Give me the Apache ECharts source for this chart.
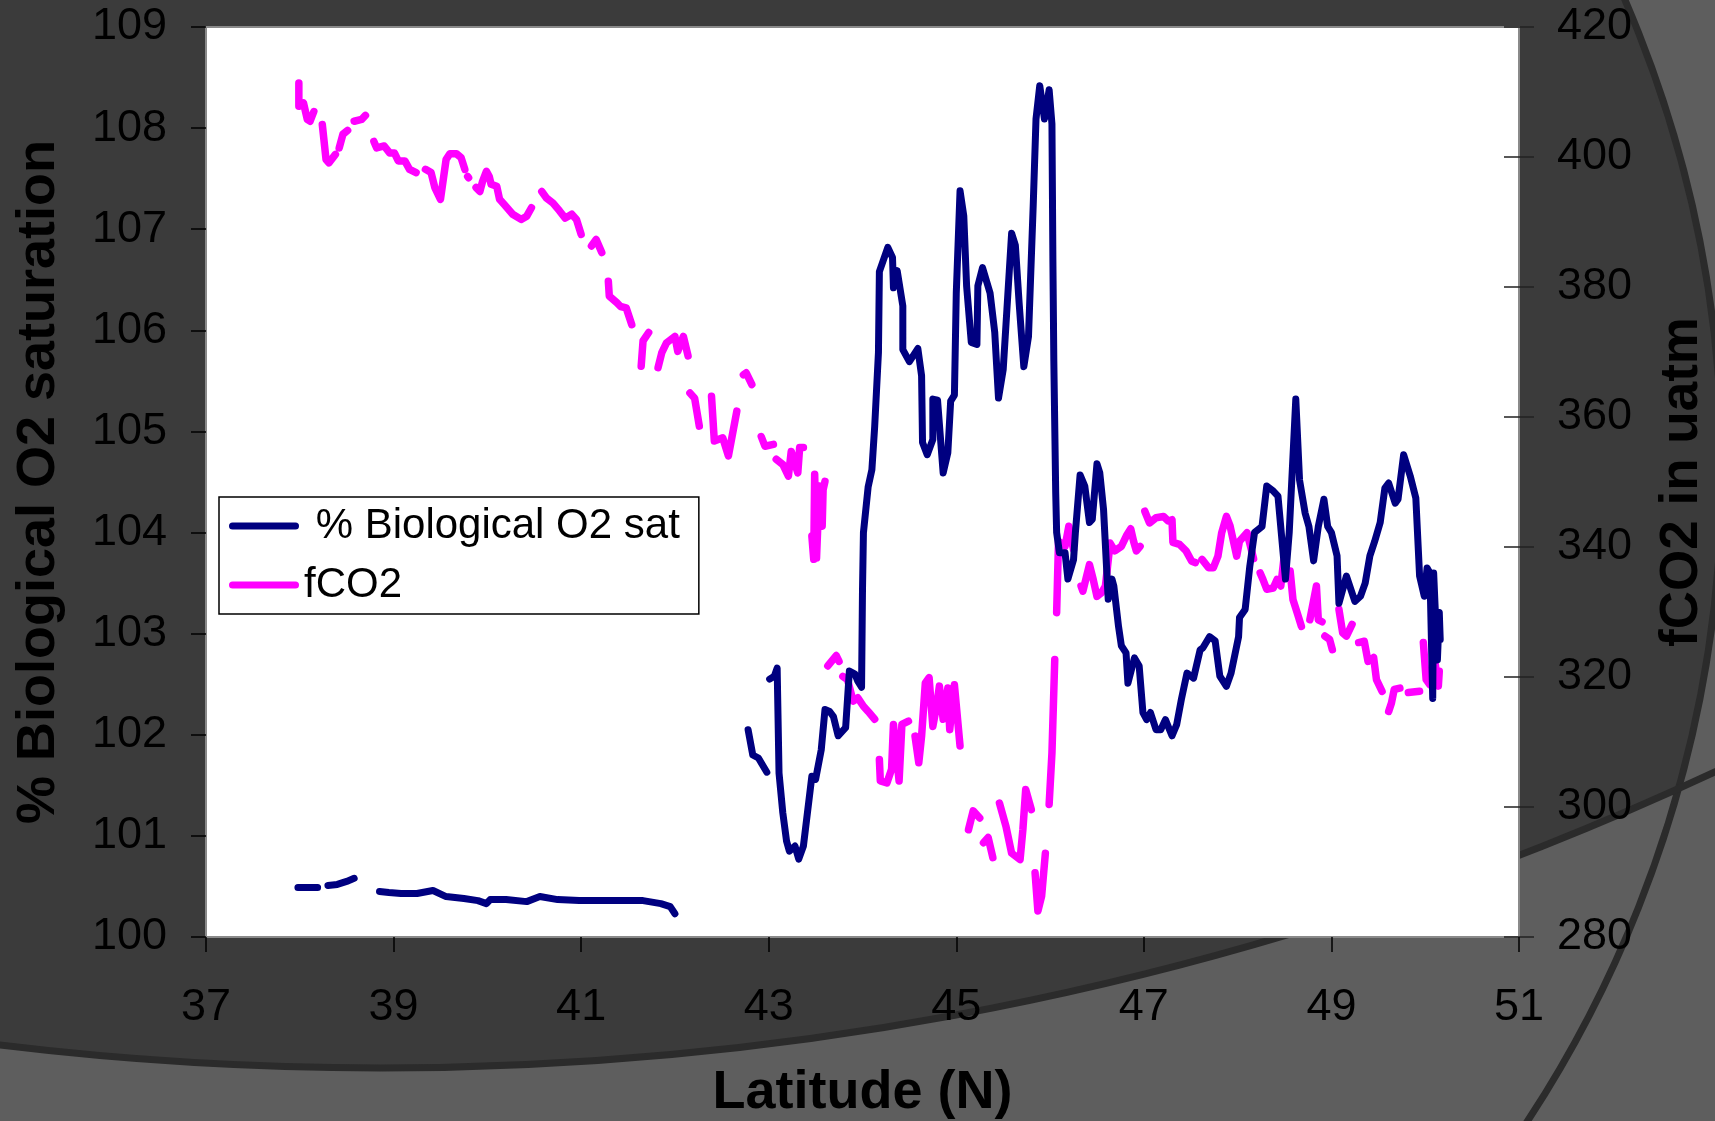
<!DOCTYPE html>
<html>
<head>
<meta charset="utf-8">
<script src="https://cdn.jsdelivr.net/npm/echarts@6/dist/echarts.min.js"></script>
<style>
  html, body { margin: 0; padding: 0; background: #3b3b3b; }
  #chart { width: 1715px; height: 1121px; }
</style>
</head>
<body>
<div id="chart"></div>
<script>
// Latitude ticks
const latTicks = [37, 39, 41, 43, 45, 47, 49, 51];

// % Biological O2 saturation along the transect (null = no data)
const o2Lat = [
  37.98, 38.19, null,
  38.30, 38.40, 38.50, 38.58, null,
  38.85, 38.95, 39.08, 39.25, 39.42, 39.56, 39.75, 39.90, 39.99, 40.03, 40.20, 40.42, 40.56, 40.75, 40.98, 41.20, 41.46, 41.66, 41.85, 41.95, 42.00, null,
  42.78, 42.83, 42.89, 42.98, null,
  43.01, 43.06, 43.09, 43.11, 43.15, 43.19, 43.22, 43.28, 43.32, 43.37, 43.46, 43.50, 43.56, 43.60, 43.65, 43.69, 43.74, 43.82, 43.86, 43.92, 43.95, 43.99,
  44.00, 44.01, 44.06, 44.10, 44.13, 44.17, 44.18, 44.27, 44.32, 44.33, 44.37, 44.43, 44.43, 44.50, 44.59, 44.63, 44.64, 44.69, 44.75, 44.75, 44.80, 44.86, 44.91, 44.94, 44.98,
  45.00, 45.04, 45.08, 45.11, 45.16, 45.22, 45.23, 45.28, 45.36, 45.41, 45.45, 45.50, 45.54, 45.59, 45.63, 45.67, 45.72, 45.77, 45.82, 45.85, 45.89, 45.94, 45.99,
  46.02, 46.03, 46.04, 46.06, 46.07, 46.10, 46.16, 46.19, 46.25, 46.27, 46.32, 46.37, 46.42, 46.45, 46.50, 46.53, 46.57, 46.62, 46.66, 46.68, 46.73, 46.76, 46.81, 46.83, 46.90, 46.95, 46.99,
  47.03, 47.07, 47.13, 47.18, 47.23, 47.30, 47.35, 47.40, 47.46, 47.53, 47.60, 47.63, 47.70, 47.76, 47.81, 47.88, 47.93,
  48.01, 48.02, 48.08, 48.13, 48.18, 48.26, 48.31, 48.38, 48.43, 48.51, 48.55, 48.62, 48.66, 48.72, 48.76, 48.81, 48.86, 48.92, 48.96,
  49.00, 49.06, 49.08, 49.16, 49.25, 49.31, 49.36, 49.41, 49.46, 49.52, 49.57, 49.61, 49.68, 49.71, 49.77, 49.84, 49.90, 49.94, 49.99,
  50.02, 50.05, 50.08, 50.09, 50.11, 50.13, 50.15, 50.16
];
const o2Val = [
  100.49, 100.49, null,
  100.51, 100.52, 100.55, 100.58, null,
  100.45, 100.44, 100.43, 100.43, 100.46, 100.40, 100.38, 100.36, 100.33, 100.37, 100.37, 100.35, 100.40, 100.37, 100.36, 100.36, 100.36, 100.36, 100.33, 100.30, 100.23, null,
  102.05, 101.80, 101.77, 101.63, null,
  102.55, 102.58, 102.66, 101.62, 101.23, 100.95, 100.85, 100.90, 100.77, 100.90, 101.59, 101.56, 101.85, 102.25, 102.23, 102.18, 101.99, 102.07, 102.63, 102.60, 102.53, 102.47,
  103.44, 104.00, 104.45, 104.62, 105.05, 105.78, 106.58, 106.82, 106.72, 106.42, 106.59, 106.24, 105.81, 105.69, 105.82, 105.55, 104.89, 104.77, 104.92, 105.32, 105.31, 104.59, 104.79, 105.30, 105.36,
  106.37, 107.38, 107.13, 106.44, 105.88, 105.86, 106.44, 106.62, 106.37, 105.98, 105.33, 105.61, 106.21, 106.96, 106.84, 106.27, 105.64, 105.94, 107.23, 108.09, 108.42, 108.09, 108.38,
  108.04, 106.70, 105.70, 104.40, 104.00, 103.80, 103.80, 103.54, 103.73, 104.00, 104.57, 104.46, 104.10, 104.13, 104.68, 104.59, 104.23, 103.34, 103.54, 103.47, 103.07, 102.88, 102.81, 102.51, 102.76, 102.68, 102.22,
  102.15, 102.22, 102.05, 102.05, 102.15, 101.99, 102.10, 102.35, 102.61, 102.56, 102.84, 102.86, 102.97, 102.93, 102.58, 102.48, 102.61,
  102.97, 103.16, 103.24, 103.67, 104.00, 104.06, 104.46, 104.41, 104.36, 103.54, 104.00, 105.32, 104.52, 104.19, 104.06, 103.72, 104.06, 104.33, 104.06,
  104.00, 103.77, 103.30, 103.57, 103.32, 103.37, 103.50, 103.77, 103.91, 104.10, 104.44, 104.49, 104.29, 104.33, 104.77, 104.56, 104.34, 103.57, 103.37,
  103.65, 103.60, 102.36, 103.60, 103.60, 102.74, 103.21, 102.94
];

// fCO2 (uatm) along the transect (null = no data)
const co2Lat = [
  37.99, 37.99, 38.04, 38.08, 38.11, 38.15, null,
  38.24, 38.28, 38.31, 38.38, null,
  38.42, 38.46, 38.51, null,
  38.58, 38.66, 38.70, null,
  38.79, 38.82, 38.90, 38.96, 39.01, 39.05, 39.12, 39.17, 39.24, null,
  39.34, 39.40, 39.44, 39.50, 39.56, 39.60, 39.67, 39.72, 39.76, null,
  39.79, 39.80, null,
  39.88, 39.92, 39.95, 39.99, 40.02, 40.04, 40.10, 40.13, 40.18, 40.27, 40.36, 40.42, 40.47, null,
  40.58, 40.63, 40.70, 40.77, 40.83, 40.90, 40.95, 41.00, null,
  41.11, 41.16, 41.22, null,
  41.29, 41.30, 41.38, 41.42, 41.48, 41.54, null,
  41.64, 41.66, 41.72, null,
  41.82, 41.86, 41.91, 42.00, 42.03, 42.09, 42.14, null,
  42.16, 42.21, 42.26, null,
  42.39, 42.42, 42.51, 42.57, 42.66, null,
  42.73, 42.76, 42.82, null,
  42.92, 42.96, 43.05, null,
  43.08, 43.15, 43.21, 43.24, 43.31, 43.33, 43.37, null,
  43.46, 43.48, 43.49, 43.51, 43.54, 43.57, 43.58, 43.60, null,
  43.63, 43.72, 43.75, null,
  43.79, 43.84, 43.90, 43.95, 44.01, 44.06, 44.13, null,
  44.18, 44.19, 44.26, 44.31, 44.33, 44.39, 44.42, 44.49, null,
  44.56, 44.60, 44.63, 44.67, 44.71, 44.75, 44.79, 44.82, 44.86, 44.91, 44.93, 44.98, 45.04, null,
  45.13, 45.18, 45.25, null,
  45.29, 45.34, 45.39, null,
  45.46, 45.53, 45.59, 45.68, 45.71, 45.74, 45.80, null,
  45.84, 45.87, 45.91, 45.95, null,
  45.99, 46.02, 46.05, null,
  46.07, 46.09, 46.16, 46.20, 46.25, null,
  46.33, 46.35, 46.42, 46.46, 46.50, 46.55, 46.59, 46.64, 46.69, 46.76, 46.82, 46.86, 46.89, 46.92, 46.96, null,
  47.01, 47.06, 47.13, 47.21, 47.26, 47.30, 47.31, 47.38, 47.45, 47.51, 47.55, null,
  47.62, 47.69, 47.74, 47.79, 47.83, 47.88, 47.92, 47.99, 48.02, 48.10, 48.17, null,
  48.24, 48.27, 48.31, 48.38, 48.42, 48.46, 48.49, 48.53, null,
  48.56, 48.59, 48.63, 48.68, null,
  48.77, 48.84, 48.86, 48.90, null,
  48.93, 48.98, 49.01, null,
  49.08, 49.12, 49.16, 49.22, null,
  49.29, 49.35, 49.39, 49.45, 49.48, 49.54, null,
  49.61, 49.64, 49.67, 49.73, null,
  49.82, 49.94, null,
  49.98, 50.01, 50.05, 50.10, 50.14, 50.15
];
const co2Val = [
  411.4, 407.8, 408.3, 405.8, 405.5, 407.0, null,
  405.0, 399.6, 399.1, 400.4, null,
  401.4, 403.5, 404.1, null,
  405.5, 405.8, 406.4, null,
  402.4, 401.4, 401.7, 400.6, 400.6, 399.4, 399.4, 398.1, 397.6, null,
  398.1, 397.6, 395.3, 393.5, 399.6, 400.5, 400.5, 399.9, 398.1, null,
  397.0, 396.8, null,
  395.3, 394.7, 396.3, 397.8, 397.0, 395.8, 395.5, 393.5, 392.7, 391.2, 390.4, 390.9, 392.2, null,
  394.7, 393.7, 392.9, 391.7, 390.6, 391.2, 390.4, 388.1, null,
  386.3, 387.3, 385.3, null,
  380.9, 378.6, 377.6, 377.0, 376.8, 374.2, null,
  367.8, 371.7, 373.0, null,
  367.6, 369.9, 371.4, 372.4, 370.1, 372.4, 369.4, null,
  363.7, 362.9, 358.6, null,
  363.2, 356.3, 356.8, 354.0, 360.9, null,
  366.5, 366.8, 365.0, null,
  357.0, 355.5, 355.8, null,
  353.5, 352.7, 350.9, 354.7, 351.4, 355.3, 355.3, null,
  341.7, 338.1, 351.2, 338.3, 349.4, 343.2, 348.8, 350.1, null,
  321.7, 323.3, 322.4, null,
  320.1, 319.6, 316.3, 316.8, 315.5, 314.7, 313.5, null,
  307.3, 304.0, 303.7, 305.8, 312.7, 304.0, 312.7, 313.2, null,
  310.9, 306.8, 310.9, 319.1, 319.9, 312.4, 315.5, 318.6, 313.5, 318.3, 311.9, 318.8, 309.4, null,
  296.5, 299.4, 298.3, null,
  294.5, 295.3, 292.2, null,
  300.6, 297.0, 292.9, 291.9, 296.5, 302.7, 299.6, null,
  289.9, 284.0, 286.3, 292.9, null,
  300.4, 308.3, 322.7, null,
  329.9, 340.9, 340.1, 343.2, 339.6, null,
  334.0, 333.2, 337.3, 335.0, 332.4, 333.0, 334.0, 340.6, 339.4, 340.1, 341.9, 342.8, 340.9, 339.4, 340.1, null,
  345.5, 343.7, 344.5, 344.7, 344.0, 344.2, 340.7, 340.4, 339.4, 337.8, 337.6, null,
  338.1, 336.8, 336.8, 338.6, 342.2, 344.7, 343.2, 338.6, 340.9, 342.2, 338.2, null,
  336.0, 335.0, 333.5, 333.7, 335.0, 334.0, 337.8, 339.6, null,
  336.3, 331.9, 330.1, 327.8, null,
  328.8, 334.0, 328.8, 328.5, null,
  326.3, 325.8, 324.2, null,
  330.4, 326.8, 326.3, 328.1, null,
  325.3, 325.5, 322.4, 323.0, 319.6, 317.8, null,
  314.7, 316.0, 318.1, 318.3, null,
  317.6, 317.8, null,
  325.3, 319.6, 318.8, 322.7, 318.6, 320.9
];

function pairs(xs, ys) {
  return xs.map((x, i) => (x === null || ys[i] === null) ? [NaN, '-'] : [x, ys[i]]);
}

const FONT = 'Liberation Sans, Arial, sans-serif';
const LIGHT = '#5e5e5e';
const DARK = '#3b3b3b';
const EDGE = '#2b2b2b';

const chart = echarts.init(document.getElementById('chart'), null, { renderer: 'canvas' });

chart.setOption({
  backgroundColor: DARK,
  animation: false,
  textStyle: { fontFamily: FONT },
  graphic: [
    // backdrop: two large circles frame the dark slide area
    { type: 'circle', z: -20, silent: true,
      shape: { cx: 535, cy: 470, r: 1187 + 1500 },
      style: { fill: null, stroke: LIGHT, lineWidth: 3000 } },
    { type: 'circle', z: -20, silent: true,
      shape: { cx: 380, cy: -2090, r: 3158 + 1500 },
      style: { fill: null, stroke: LIGHT, lineWidth: 3000 } },
    { type: 'circle', z: -19, silent: true,
      shape: { cx: 535, cy: 470, r: 1187 },
      style: { fill: null, stroke: EDGE, lineWidth: 7 } },
    { type: 'circle', z: -19, silent: true,
      shape: { cx: 380, cy: -2090, r: 3158 },
      style: { fill: null, stroke: EDGE, lineWidth: 7 } }
  ],
  grid: {
    left: 206, right: 196, top: 27, bottom: 184,
    show: true, backgroundColor: '#ffffff', borderColor: '#8a8a8a', borderWidth: 2,
    containLabel: false,
    outerBoundsMode: 'none'
  },
  legend: {
    orient: 'vertical',
    left: 219, top: 497,
    padding: [8, 19, 8, 10],
    itemGap: 17,
    itemWidth: 70, itemHeight: 7,
    icon: 'path://M3.5,0 H66.5 A3.5,3.5 0 0 1 66.5,7 H3.5 A3.5,3.5 0 0 1 3.5,0 Z',
    backgroundColor: '#ffffff',
    borderColor: '#000000', borderWidth: 1.5, borderRadius: 0,
    textStyle: { fontSize: 42, color: '#000', fontFamily: FONT },
    formatter: name => (name === 'fCO2' ? name : ' ' + name),
    data: ['% Biological O2 sat', 'fCO2']
  },
  xAxis: {
    type: 'value', min: 37, max: 51, interval: 2,
    name: 'Latitude (N)', nameLocation: 'middle', nameGap: 129,
    nameTextStyle: { fontSize: 54, fontWeight: 'bold', color: '#000', fontFamily: FONT },
    axisLine: { show: true, onZero: false, lineStyle: { color: '#8a8a8a', width: 2 } },
    axisTick: { show: true, length: 15, lineStyle: { color: '#000', width: 1.5 } },
    axisLabel: { fontSize: 45, color: '#000', margin: 48, fontFamily: FONT },
    splitLine: { show: false }
  },
  yAxis: [
    {
      type: 'value', min: 100, max: 109, interval: 1, position: 'left',
      name: '% Biological O2 saturation', nameLocation: 'middle', nameGap: 140,
      nameTextStyle: { fontSize: 54, fontWeight: 'bold', color: '#000', fontFamily: FONT },
      axisLine: { show: true, onZero: false, lineStyle: { color: '#8a8a8a', width: 2 } },
      axisTick: { show: true, length: 15, lineStyle: { color: '#000', width: 1.5 } },
      axisLabel: { fontSize: 45, color: '#000', margin: 39, fontFamily: FONT },
      splitLine: { show: false }
    },
    {
      type: 'value', min: 280, max: 420, interval: 20, position: 'right',
      name: 'fCO2 in uatm', nameLocation: 'middle', nameGap: 137,
      nameTextStyle: { fontSize: 53, fontWeight: 'bold', color: '#000', fontFamily: FONT },
      axisLine: { show: true, onZero: false, lineStyle: { color: '#8a8a8a', width: 2 } },
      axisTick: { show: true, length: 15, lineStyle: { color: '#222', width: 1.5 } },
      axisLabel: { fontSize: 45, color: '#000', margin: 38, fontFamily: FONT },
      splitLine: { show: false }
    },
    {
      // inner half of the right-hand cross ticks
      type: 'value', min: 280, max: 420, interval: 20, position: 'right',
      axisLine: { show: false },
      axisTick: { show: true, inside: true, length: 15, lineStyle: { color: '#222', width: 1.5 } },
      axisLabel: { show: false },
      splitLine: { show: false }
    }
  ],
  series: [
    {
      name: '% Biological O2 sat', type: 'line', yAxisIndex: 0,
      data: pairs(o2Lat, o2Val),
      showSymbol: false, symbol: 'none', connectNulls: false,
      lineStyle: { color: '#000080', width: 7, cap: 'round', join: 'round' },
      itemStyle: { color: '#000080' },
      z: 3
    },
    {
      name: 'fCO2', type: 'line', yAxisIndex: 1,
      data: pairs(co2Lat, co2Val),
      showSymbol: false, symbol: 'none', connectNulls: false,
      lineStyle: { color: '#ff00ff', width: 7.5, cap: 'round', join: 'round' },
      itemStyle: { color: '#ff00ff' },
      z: 2
    }
  ]
});
</script>
</body>
</html>
